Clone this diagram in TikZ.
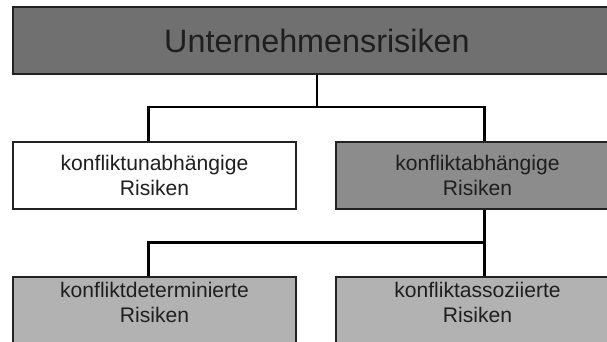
\documentclass[tikz,border=0pt]{standalone}
\usepackage{fontspec}
\setmainfont{Liberation Sans}
\definecolor{topgray}{HTML}{707070}
\definecolor{midgray}{HTML}{8C8C8C}
\definecolor{lowgray}{HTML}{B2B2B2}
\definecolor{framegray}{HTML}{222222}

\begin{document}
\begin{tikzpicture}[
  box/.style={draw=framegray,line width=0.6pt,inner sep=0pt,
    minimum width=5.66cm,minimum height=1.34cm,align=center,
    font=\fontsize{12}{13.9}\selectfont,text=black!88},
  link/.style={line width=1.6pt,line join=miter}]
\useasboundingbox (0,0) rectangle (12.14,6.84);
\clip (0,0) rectangle (12.14,6.84);
% ---------- top level ----------
\node[box,fill=topgray,minimum width=12.16cm,
  font=\fontsize{18.4}{22}\selectfont] (risk) at (6.34,6.03) {Unternehmensrisiken};
% ---------- second level ----------
\node[box,fill=white] (indep) at (3.09,3.33) {konfliktunabhängige\\Risiken};
\node[box,fill=midgray] (dep) at (9.55,3.33) {konfliktabhängige\\Risiken};
% ---------- third level ----------
\node[box,fill=lowgray,text depth=0.32cm] (determ) at (3.09,0.63) {konfliktdeterminierte\\Risiken};
\node[box,fill=lowgray,text depth=0.32cm] (assoc) at (9.55,0.63) {konfliktassoziierte\\Risiken};
% ---------- connectors ----------
\draw[link] (risk.south) -- ++(0,-0.67);
\draw[link] ([xshift=-0.116cm]indep.north) |- ([xshift=0.136cm,yshift=0.69cm]dep.north)
  -- ([xshift=0.136cm]dep.north);
\draw[link] ([xshift=0.136cm]dep.south) -- ([xshift=0.136cm]assoc.north);
\draw[link] ([xshift=-0.116cm]determ.north) |- ([xshift=0.136cm,yshift=0.68cm]assoc.north);
\end{tikzpicture}
\end{document}
